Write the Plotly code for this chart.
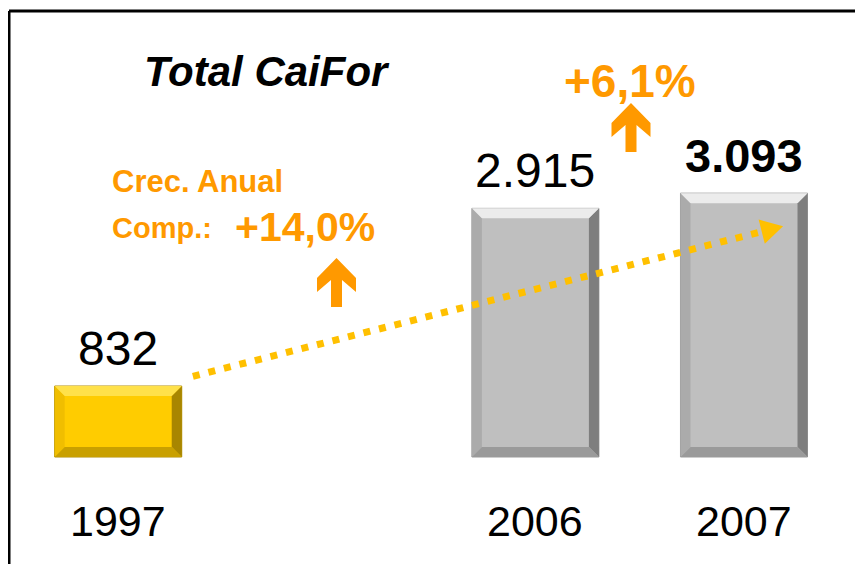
import plotly.graph_objects as go

# ---------------- data ----------------
years = ["1997", "2006", "2007"]
values = [832, 2915, 3093]
bar_kind = ["base", "recent", "recent"]
title_text = "Total CaiFor"
cagr_label_1 = "Crec. Anual"
cagr_label_2 = "Comp.:"
cagr_value = "+14,0%"
yoy_value = "+6,1%"

# ---------------- layout config ----------------
OFF = 8                      # page body margin
W, H = 855, 556              # figure size (window minus body margin)
SLOT = {"1997": 0, "2006": 2, "2007": 3}
X_RANGE = [-0.5283, 3.5705]
Y_RANGE = [-1254.4, 5263.8]
BAR_W = 0.609
FILL = {"base": "#FFCC00", "recent": "#BFBFBF"}
BEVEL = {
    "base": {"top": "#FFE14A", "left": "#F0BE00", "right": "#A88600", "bottom": "#C9A000", "line": "#B08C00"},
    "recent": {"top": "#ECECEC", "left": "#ABABAB", "right": "#7E7E7E", "bottom": "#9A9A9A", "line": "#9C9C9C"},
}
ORANGE = "#FF9900"
DOT_COLOR = "#FFC000"
FONT = "Liberation Sans, Arial, sans-serif"


def x2px(x):
    return OFF + (x - X_RANGE[0]) / (X_RANGE[1] - X_RANGE[0]) * W


def y2px(y):
    return OFF + H - (y - Y_RANGE[0]) / (Y_RANGE[1] - Y_RANGE[0]) * H


def pp(px, py):
    return (px - OFF) / W, 1 - (py - OFF) / H


def path(points):
    pts = [pp(a, b) for a, b in points]
    return "M " + " L ".join(f"{a:.5f},{b:.5f}" for a, b in pts) + " Z"


xs = [SLOT[y] for y in years]
fig = go.Figure()
fig.add_trace(go.Bar(
    x=xs, y=values, width=BAR_W,
    marker=dict(color=[FILL[k] for k in bar_kind],
                line=dict(color=[BEVEL[k]["line"] for k in bar_kind], width=1)),
    hoverinfo="skip", showlegend=False,
))

shapes = []
annotations = []

# bevel overlays
b = 10
for yr, x, v, k in zip(years, xs, values, bar_kind):
    L, R = x2px(x - BAR_W / 2), x2px(x + BAR_W / 2)
    T, B = y2px(v), y2px(0)
    c = BEVEL[k]
    for key, pts in [
        ("left", [(L, T), (L + b, T + b), (L + b, B - b), (L, B)]),
        ("right", [(R, T), (R, B), (R - b, B - b), (R - b, T + b)]),
        ("bottom", [(L, B), (R, B), (R - b, B - b), (L + b, B - b)]),
        ("top", [(L, T), (R, T), (R - b, T + b), (L + b, T + b)]),
    ]:
        shapes.append(dict(type="path", path=path(pts), xref="paper", yref="paper",
                           fillcolor=c[key], line=dict(width=0), layer="above"))

    label = f"{v:,}".replace(",", ".")
    bold = (yr == years[-1])
    annotations.append(dict(
        x=x, y=v, xref="x", yref="y", text=(f"<b>{label}</b>" if bold else label),
        showarrow=False, yanchor="middle", yshift=38,
        font=dict(family=FONT, size=47 if bold else 48, color="black")))
    annotations.append(dict(
        x=x, y=pp(0, 521)[1], xref="x", yref="paper", text=yr,
        showarrow=False, yanchor="middle",
        font=dict(family=FONT, size=43, color="black")))

# dotted trend line with arrowhead
sx, sy = x2px(0.358), y2px(946)
ex, ey = x2px(3.085), y2px(2642)
x0p, y0p = pp(sx, sy)
x1p, y1p = pp(ex, ey)
shapes.append(dict(type="line", xref="paper", yref="paper", x0=x0p, y0=y0p, x1=x1p, y1=y1p,
                   line=dict(color=DOT_COLOR, width=7, dash="7px,9px"), layer="above"))
dx, dy = ex - sx, ey - sy
ln = (dx ** 2 + dy ** 2) ** 0.5
ux, uy = dx / ln, dy / ln
tipx, tipy = ex + 22 * ux, ey + 22 * uy
nx, ny = -uy, ux
shapes.append(dict(type="path", xref="paper", yref="paper", layer="above",
                   path=path([(tipx, tipy), (ex + 12.5 * nx, ey + 12.5 * ny), (ex - 12.5 * nx, ey - 12.5 * ny)]),
                   fillcolor=DOT_COLOR, line=dict(width=0)))


# orange up arrows
def up_arrow(tx, ty):
    rel = [(0, 0), (19.5, 20), (19.5, 34), (5.5, 22), (5.5, 49), (-5.5, 49),
           (-5.5, 22), (-19.5, 34), (-19.5, 20)]
    return dict(type="path", xref="paper", yref="paper", layer="above",
                path=path([(tx + a, ty + c) for a, c in rel]),
                fillcolor=ORANGE, line=dict(width=0))


shapes.append(up_arrow(336.5, 258))
shapes.append(up_arrow(631, 103))

# border
bx, by = pp(9, 11)
shapes.append(dict(type="line", xref="paper", yref="paper", x0=bx, x1=1.02,
                   y0=by, y1=by, line=dict(color="black", width=3)))
shapes.append(dict(type="line", xref="paper", yref="paper", x0=bx, x1=bx,
                   y0=by, y1=-0.02, line=dict(color="black", width=3)))


# texts
def txt(text, px, py, size, color, xanchor="center"):
    xp, yp = pp(px, py)
    return dict(x=xp, y=yp, xref="paper", yref="paper", text=text, showarrow=False,
                xanchor=xanchor, yanchor="middle", font=dict(family=FONT, size=size, color=color))


annotations.append(txt(f"<b><i>{title_text}</i></b>", 267, 72, 42, "black"))
annotations.append(txt(f"<b>{cagr_label_1}</b>", 110, 181, 31, ORANGE, "left"))
annotations.append(txt(f"<b>{cagr_label_2}</b>", 110, 228, 29, ORANGE, "left"))
annotations.append(txt(f"<b>{cagr_value}</b>", 233, 227, 41, ORANGE, "left"))
annotations.append(txt(f"<b>{yoy_value}</b>", 630, 81, 46, ORANGE))

fig.update_layout(
    width=W, height=H, autosize=False,
    margin=dict(l=0, r=0, t=0, b=0),
    paper_bgcolor="white", plot_bgcolor="white",
    xaxis=dict(range=X_RANGE, visible=False, fixedrange=True),
    yaxis=dict(range=Y_RANGE, visible=False, fixedrange=True),
    shapes=shapes, annotations=annotations,
    showlegend=False,
)

fig.write_html("out.html")
